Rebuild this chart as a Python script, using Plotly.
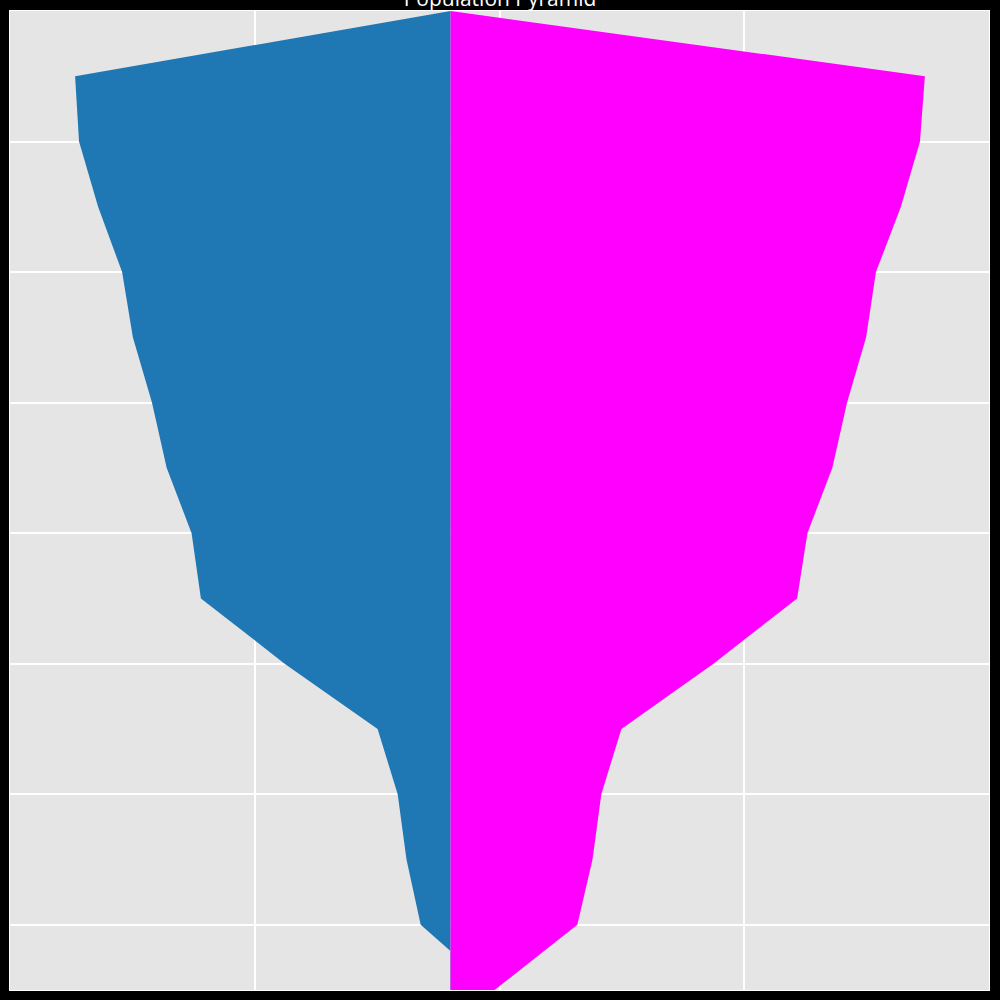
import plotly.graph_objects as go

# age groups, top row first (axis reversed so the first one sits at the top)
age_group = [0, 5, 10, 15, 20, 25, 30, 35, 40, 45, 50, 55, 60, 65, 70, 75]

# population per group (millions)
male = [0, 7.67, 7.59, 7.20, 6.71, 6.49, 6.10, 5.80, 5.29, 5.10,
        3.39, 1.49, 1.08, 0.90, 0.61, -0.90]
female = [0, 9.69, 9.59, 9.20, 8.69, 8.49, 8.10, 7.80, 7.29, 7.08,
          5.37, 3.49, 3.08, 2.90, 2.59, 0.90]

fig = go.Figure()
fig.add_trace(go.Scatter(x=[-v for v in male], y=age_group,
                         mode='lines',
                         name='Male',
                         fill='tozerox',
                         fillcolor='#1f77b4',
                         line=dict(color='#1f77b4', width=0)))
fig.add_trace(go.Scatter(x=female, y=age_group,
                         mode='lines',
                         name='Female',
                         fill='tozerox',
                         fillcolor='#ff00ff',
                         line=dict(color='#ff00ff', width=0)))

# no fixed width/height: the figure fills the browser window
fig.update_layout(
    paper_bgcolor="black",
    plot_bgcolor="#e5e5e5",
    title={
        "text": "Population Pyramid",
        "x": 0.5,
        "xanchor": "center",
        "font": {"color": "white", "size": 21}
    },
    showlegend=False,
    margin=dict(l=10, r=10, t=10, b=10)
)
fig.update_xaxes(range=[-9, 11], tick0=1, dtick=5,
                 showgrid=True, gridcolor="white", gridwidth=1.5,
                 zeroline=False, showticklabels=False,
                 showline=True, linecolor="white", linewidth=1, mirror=True)
fig.update_yaxes(range=[75, 0], dtick=10,
                 showgrid=True, gridcolor="white", gridwidth=1.5,
                 zeroline=False, showticklabels=False,
                 showline=True, linecolor="white", linewidth=1, mirror=True)

# drop the page's default body margin so the figure covers the whole window
fill_window = ("document.body.style.margin = '0';"
               "document.body.style.background = 'black';"
               "Plotly.relayout(document.getElementById('{plot_id}'), {autosize: true});")

fig.write_html("out.html", post_script=fill_window,
               config={"displayModeBar": False})
